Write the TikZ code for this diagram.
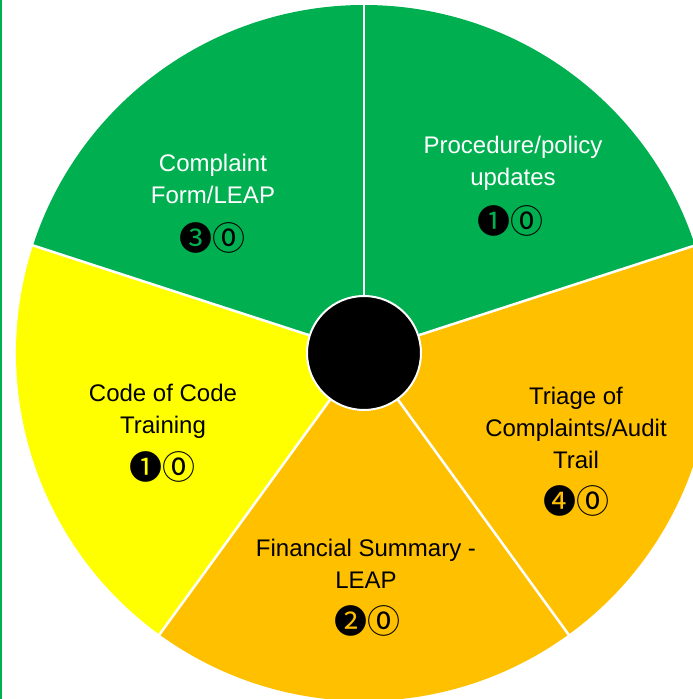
\documentclass[tikz,border=0pt]{standalone}
\usepackage{fontspec}
\setmainfont{Liberation Sans}
\newfontfamily\symfont{Noto Sans CJK JP}
\definecolor{sgreencolor}{RGB}{0,176,80}
\definecolor{syellowcolor}{RGB}{255,255,0}
\definecolor{sorangecolor}{RGB}{255,192,0}

\begin{document}
\begin{tikzpicture}[x=1pt,y=1pt,
    lbl/.style={align=center,inner sep=0pt,font=\fontsize{24}{32}\selectfont},
    marks/.style={inner sep=0pt,font=\symfont\fontsize{33}{33}\selectfont}]
  \useasboundingbox (-364,-346) rectangle (329,353);
  \clip (-364,-346) rectangle (329,353);
  % sectors:
  \foreach \a/\col in {18/sgreencolor, 90/sgreencolor, 162/syellowcolor, 234/sorangecolor, 306/sorangecolor}
     \fill[\col] (0,0) -- (\a:348) arc[start angle=\a, end angle=\a+72, radius=348] -- cycle;
  \foreach \a in {18, 90, 162, 234, 306}
     \draw[white,line width=2.5pt] (0,0) -- (\a:350);
  \node[circle,fill=black,draw=white,line width=2pt,minimum size=114pt] (hub) at (0,0) {};
  % left rule:
  \fill[sgreencolor] (-364,-346) rectangle (-362,353);

  \node[lbl,text=white] (form) at (-151,174) {Complaint\\Form/LEAP};
  \node[marks] (formm) at (-151.5,115) {❸⓪};
  \node[lbl,text=white] (proc) at (149,190) {Procedure/policy\\updates};
  \node[marks] (procm) at (146.5,132) {❶⓪};
  \node[lbl] (code) at (-201,-58) {Code of Code\\Training};
  \node[marks] (codem) at (-201.5,-114) {❶⓪};
  \node[lbl] (fin) at (2,-211) {Financial Summary -\\LEAP};
  \node[marks] (finm) at (3.5,-268) {❷⓪};
  \node[lbl] (triage) at (212,-75) {Triage of\\Complaints/Audit\\Trail};
  \node[marks] (triagem) at (212.5,-148) {❹⓪};
\end{tikzpicture}
\end{document}
